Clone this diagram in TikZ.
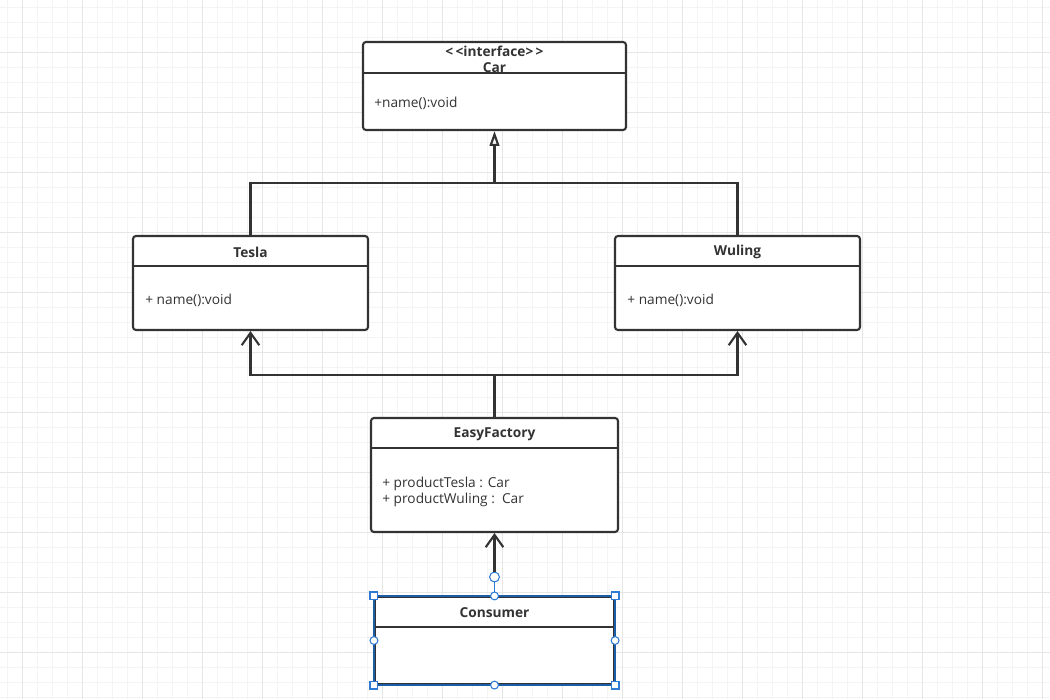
\documentclass[tikz,border=0pt]{standalone}
\usepackage{fontspec}
\setmainfont{Open Sans}
\usetikzlibrary{positioning,arrows.meta,fit}
\definecolor{ink}{HTML}{333333}
\definecolor{gridminor}{HTML}{F4F4F4}
\definecolor{gridmajor}{HTML}{E6E6E6}
\definecolor{selblue}{HTML}{2E7BD6}
\definecolor{seledge}{HTML}{1B5EA6}
\tikzset{
  cls/.style={draw=ink,line width=1.2pt,rounded corners=1.7pt,inner sep=0pt,fill=white},
  clsdiv/.style={draw=ink,line width=1.2pt},
  clshead/.style={font=\fontsize{7.8}{9}\selectfont\bfseries,text=ink,align=center,inner sep=0pt},
  clsbody/.style={font=\fontsize{7.8}{9}\selectfont,text=ink,align=left,anchor=west,inner sep=0pt},
  rel/.style={draw=ink,line width=1.2pt},
  gen/.style={rel,-{Triangle[open,length=8.5pt,width=5.5pt]}},
  dep/.style={rel,-{Straight Barb[length=7pt,width=10pt]}},
  gminor/.style={draw=gridminor,line width=0.5pt},
  gmajor/.style={draw=gridmajor,line width=0.55pt},
  hsq/.style={rectangle,draw=selblue,fill=white,line width=0.6pt,minimum size=4.5pt,inner sep=0pt},
  hci/.style={circle,draw=selblue,fill=white,line width=0.6pt,minimum size=4.5pt,inner sep=0pt},
}

\begin{document}
\begin{tikzpicture}[x=0.02cm,y=-0.02cm]
  \useasboundingbox (0,0) rectangle (1050,699);
  \fill[white] (0,0) rectangle (1050,699);
  % grid
  \foreach \gx in {7.5,22.5,...,1050} \draw[gminor] (\gx,0) -- (\gx,699);
  \foreach \gy in {7,22,...,699} \draw[gminor] (0,\gy) -- (1050,\gy);
  \foreach \gx in {22.5,82.5,...,1050} \draw[gmajor] (\gx,0) -- (\gx,699);
  \foreach \gy in {52,112,...,699} \draw[gmajor] (0,\gy) -- (1050,\gy);

  % classes
  \node[cls,fit={(363,42) (626,130)}] (car) {};
  \draw[clsdiv] (car.west |- 0,73) -- (car.east |- 0,73);
  \node[clshead] (carh) at (494.5,59) {<\,<interface>\,>\\Car};
  \node[clsbody] (carb) at (374,103) {+name():void};

  \node[cls,fit={(133,236) (368,330)}] (tesla) {};
  \draw[clsdiv] (tesla.west |- 0,266) -- (tesla.east |- 0,266);
  \node[clshead] (teslah) at (250.5,252) {Tesla};
  \node[clsbody] (teslab) at (145,300) {+ name():void};

  \node[cls,fit={(615,236) (860,330)}] (wuling) {};
  \draw[clsdiv] (wuling.west |- 0,266) -- (wuling.east |- 0,266);
  \node[clshead] (wulingh) at (737.5,252) {Wuling};
  \node[clsbody] (wulingb) at (627,300) {+ name():void};

  \node[cls,fit={(371,418) (618,532)}] (easy) {};
  \draw[clsdiv] (easy.west |- 0,448) -- (easy.east |- 0,448);
  \node[clshead] (easyh) at (494.5,434) {EasyFactory};
  \node[clsbody] (easyb) at (382,492) {+ productTesla : Car\\+ productWuling :~~Car};

  \node[cls,rounded corners=0pt,fit={(375,597) (614,684)}] (cons) {};
  \draw[clsdiv] (cons.west |- 0,627) -- (cons.east |- 0,627);
  \node[clshead] (consh) at (494.5,613) {Consumer};

  % relations
  \coordinate (up) at (494.5,183);
  \coordinate (down) at (494.5,375);
  \draw[rel] (tesla.north) |- (up) -| (wuling.north);
  \draw[gen] (up) -- (car.south);
  \draw[rel] (easy.north) -- (down);
  \draw[dep] (down) -| (tesla.south);
  \draw[dep] (down) -| (wuling.south);

  % selection handles on Consumer
  \draw[seledge,line width=0.7pt] (cons.north west) rectangle (cons.south east);
  \node[hci,minimum size=5.6pt] (rot) at (494.5,577) {};
  \draw[dep] (rot) -- (easy.south);
  \draw[selblue,line width=0.8pt] (rot) -- (cons.north);
  \foreach \cn in {north west,north east,south west,south east}
    \node[hsq] at (cons.\cn) {};
  \foreach \cn in {north,south,west,east}
    \node[hci] at (cons.\cn) {};
\end{tikzpicture}
\end{document}
